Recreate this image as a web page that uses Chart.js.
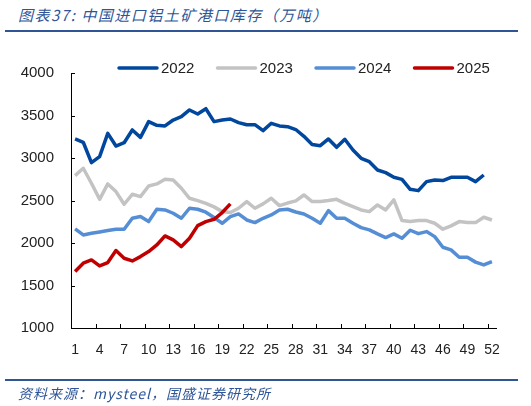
<!DOCTYPE html>
<html>
<head>
<meta charset="utf-8">
<script src="https://cdn.jsdelivr.net/npm/chart.js@4"></script>
<style>
  body { margin: 0; background: #fff; }
  #wrap { position: relative; width: 531px; height: 406px; }
  .title {
    position: absolute; left: 18px; top: 4px;
    font: italic 15px "Noto Sans CJK SC", sans-serif;
    color: #2E5597; letter-spacing: 1.5px; white-space: nowrap;
  }
  .rule { position: absolute; left: 5px; width: 513px; height: 2px; background: #2F5597; }
  .source {
    position: absolute; left: 18px; top: 383px;
    font: italic 14px "Noto Sans CJK SC", sans-serif;
    color: #2E5597; letter-spacing: 1px; white-space: nowrap;
  }
  #box { position: absolute; left: 0; top: 0; width: 531px; height: 406px; }
</style>
</head>
<body>
<div id="wrap">
  <div class="title">图表37:  中国进口铝土矿港口库存（万吨）</div>
  <div class="rule" style="top:30px"></div>
  <div id="box"><canvas id="chart"></canvas></div>
  <div class="rule" style="top:379px"></div>
  <div class="source">资料来源：mysteel，国盛证券研究所</div>
</div>
<script>
// 주차 (1~52)
const weeks = ['1','2','3','4','5','6','7','8','9','10','11','12','13','14','15','16','17','18','19','20',
  '21','22','23','24','25','26','27','28','29','30','31','32','33','34','35','36','37','38','39','40',
  '41','42','43','44','45','46','47','48','49','50','51','52'];

const years = ['2022', '2023', '2024', '2025'];
const colors = ['#00479D', '#C3C3C3', '#558ED5', '#C00000'];

const data2022 = [3224,3185,2945,3016,3290,3141,3180,3330,3243,3428,
  3384,3377,3447,3486,3565,3518,3580,3428,3447,3459,
  3416,3392,3392,3322,3408,3377,3369,3335,3255,3160,
  3145,3224,3126,3220,3094,2996,2957,2859,2828,2773,
  2749,2632,2616,2722,2742,2734,2773,2773,2773,2722,
  2800,null];
const data2023 = [2793,2879,2703,2514,2695,2605,2456,2573,2546,2671,
  2695,2750,2742,2644,2526,2499,2467,2425,2369,2358,
  2409,2487,2409,2460,2526,2440,2470,2495,2565,2487,
  2487,2499,2514,2467,2428,2389,2369,2448,2389,2507,
  2264,2252,2264,2264,2232,2162,2201,2252,2240,2240,
  2303,2271];
const data2024 = [2166,2095,2115,2130,2146,2162,2162,2291,2311,2252,
  2397,2389,2350,2291,2409,2397,2362,2299,2232,2311,
  2342,2271,2240,2291,2330,2389,2397,2365,2342,2291,
  2232,2381,2291,2291,2232,2181,2154,2107,2064,2107,
  2056,2150,2110,2134,2075,1950,1919,1832,1832,1775,
  1742,1781];
const data2025 = [1664,1762,1801,1730,1770,1911,1821,1789,1840,1899,
  1977,2083,2036,1958,2056,2205,2252,2279,2358,2460];

const yTicks = [1000, 1500, 2000, 2500, 3000, 3500, 4000];
const seriesData = [data2022, data2023, data2024, data2025];

// 안쪽으로 향하는 눈금 + 범례 그리기
const insideTicks = {
    id: 'insideTicks',
    afterDraw(chart) {
        const ctx = chart.ctx;
        const x = chart.scales.x;
        const y = chart.scales.y;
        ctx.save();
        ctx.strokeStyle = '#000';
        ctx.lineWidth = 1;
        ctx.beginPath();
        yTicks.forEach(v => {
            const py = Math.round(y.getPixelForValue(v)) + 0.5;
            ctx.moveTo(x.left, py);
            ctx.lineTo(x.left + 4, py);
        });
        for (let i = 3; i < weeks.length; i += 3) {
            const px = Math.round(x.getPixelForValue(i - 0.5)) + 0.5;
            ctx.moveTo(px, y.bottom);
            ctx.lineTo(px, y.bottom - 4);
        }
        ctx.stroke();

        // 범례
        ctx.font = '15px "Liberation Sans", Arial, sans-serif';
        ctx.textBaseline = 'middle';
        ctx.lineCap = 'round';
        years.forEach((name, i) => {
            const lx = 119 + i * 98.5;
            ctx.strokeStyle = colors[i];
            ctx.lineWidth = 3.5;
            ctx.beginPath();
            ctx.moveTo(lx, 68);
            ctx.lineTo(lx + 38, 68);
            ctx.stroke();
            ctx.fillStyle = '#222';
            ctx.fillText(name, lx + 42, 69);
        });
        ctx.restore();
    }
};

document.addEventListener('DOMContentLoaded', function() {
    const datasets = years.map((name, i) => ({
        label: name,
        data: seriesData[i],
        borderColor: colors[i],
        backgroundColor: colors[i],
        borderWidth: 3.5,
        pointRadius: 0,
        tension: 0,
        borderJoinStyle: 'round',
        order: years.length - i,
        spanGaps: false
    }));

    new Chart(document.getElementById('chart'), {
        type: 'line',
        data: { labels: weeks, datasets: datasets },
        options: {
            responsive: true,
            maintainAspectRatio: false,
            animation: false,
            layout: { padding: { left: 0, top: 73, right: 35, bottom: 0 } },
            plugins: {
                legend: { display: false },
                tooltip: { enabled: false }
            },
            scales: {
                x: {
                    offset: true,
                    grid: { display: false, drawTicks: false },
                    border: { display: true, color: '#000', width: 1 },
                    ticks: {
                        autoSkip: false,
                        maxRotation: 0,
                        padding: 14,
                        color: '#222',
                        font: { family: '"Liberation Sans", Arial, sans-serif', size: 14 },
                        callback: function(val, idx) { return idx % 3 === 0 ? weeks[idx] : ''; }
                    },
                    afterFit: function(scale) { scale.height = 78; }
                },
                y: {
                    min: 1000,
                    max: 4000,
                    grid: { display: false, drawTicks: false },
                    border: { display: true, color: '#000', width: 1 },
                    ticks: {
                        stepSize: 500,
                        padding: 17,
                        color: '#222',
                        font: { family: '"Liberation Sans", Arial, sans-serif', size: 15 },
                        callback: function(val) { return String(val); }
                    },
                    afterFit: function(scale) { scale.width = 71; }
                }
            }
        },
        plugins: [insideTicks]
    });
});
</script>
</body>
</html>
